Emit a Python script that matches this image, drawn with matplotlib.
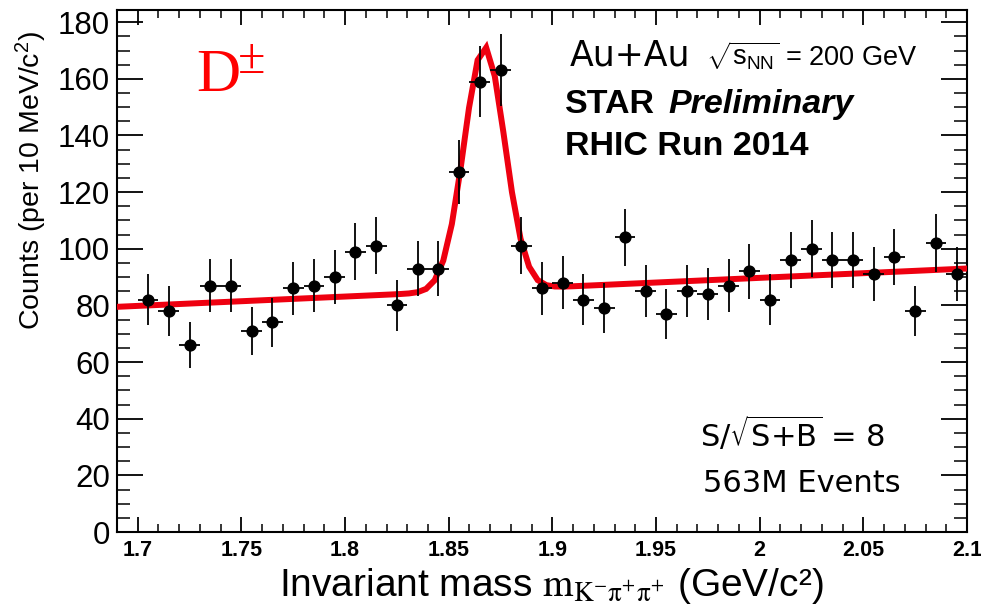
import numpy as np
import matplotlib
matplotlib.use("Agg")
import matplotlib.pyplot as plt
from matplotlib.ticker import MultipleLocator

# D+- -> K- pi+ pi+ invariant-mass histogram, 10 MeV/c^2 bins
bin_centers = [1.705, 1.715, 1.725, 1.735, 1.745, 1.755, 1.765, 1.775, 1.785, 1.795,
               1.805, 1.815, 1.825, 1.835, 1.845, 1.855, 1.865, 1.875, 1.885, 1.895,
               1.905, 1.915, 1.925, 1.935, 1.945, 1.955, 1.965, 1.975, 1.985, 1.995,
               2.005, 2.015, 2.025, 2.035, 2.045, 2.055, 2.065, 2.075, 2.085, 2.095]
counts = [82, 78, 66, 87, 87, 71, 74, 86, 87, 90,
          99, 101, 80, 93, 93, 127, 159, 163, 101, 86,
          88, 82, 79, 104, 85, 77, 85, 84, 87, 92,
          82, 96, 100, 96, 96, 91, 97, 78, 102, 91]
bin_half_width = 0.005

# Gaussian signal + linear background fit parameters
fit_amp = 86.0
fit_mean = 1.8672
fit_sigma = 0.0098
bg_at_low = 79.5
bg_slope = 33.0
fit_range = (1.69, 2.10)

x_ticks = [1.7, 1.75, 1.8, 1.85, 1.9, 1.95, 2.0, 2.05, 2.1]
x_tick_labels = ["1.7", "1.75", "1.8", "1.85", "1.9", "1.95", "2", "2.05", "2.1"]
y_ticks = [0, 20, 40, 60, 80, 100, 120, 140, 160, 180]

plt.rcParams["mathtext.fontset"] = "custom"
plt.rcParams["mathtext.rm"] = "Liberation Sans"
plt.rcParams["mathtext.it"] = "Liberation Sans:italic"
plt.rcParams["mathtext.bf"] = "Liberation Sans:bold"

fig = plt.figure(figsize=(9.81, 6.09), dpi=100)
W, H = 981, 609
ax = fig.add_axes([117 / W, (H - 532) / H, (967 - 117) / W, (532 - 10) / H])

x = np.array(bin_centers)
y = np.array(counts, dtype=float)
ax.errorbar(x, y, yerr=np.sqrt(y), xerr=bin_half_width, fmt="o", color="black",
            ms=7.8, elinewidth=1.3, capsize=0, zorder=4)

xf = np.linspace(fit_range[0], fit_range[1], 100)
yf = (bg_at_low + bg_slope * (xf - fit_range[0])
      + fit_amp * np.exp(-0.5 * ((xf - fit_mean) / fit_sigma) ** 2))
ax.plot(xf, yf, color="#ee0010", lw=4.3, solid_joinstyle="miter", zorder=3)

ax.set_xlim(1.69, 2.1)
ax.set_ylim(0, 184.3)
ax.set_xticks(x_ticks)
ax.set_xticklabels(x_tick_labels, fontfamily="Liberation Sans", fontweight="bold",
                   fontsize=15.5)
ax.set_yticks(y_ticks)
ax.set_yticklabels([str(v) for v in y_ticks], fontfamily="Liberation Sans", fontsize=22.5)
ax.xaxis.set_minor_locator(MultipleLocator(0.01))
ax.yaxis.set_minor_locator(MultipleLocator(5))
ax.tick_params(axis="x", which="major", direction="in", length=11, width=1.3,
               top=True, pad=6)
ax.tick_params(axis="x", which="minor", direction="in", length=5.5, width=1.1, top=True)
ax.tick_params(axis="y", which="major", direction="in", length=19, width=1.3,
               right=True, pad=5)
ax.tick_params(axis="y", which="minor", direction="in", length=9.5, width=1.1, right=True)
for sp in ax.spines.values():
    sp.set_linewidth(1.5)

# Axis titles
fig.text(551 / W, 1 - 596 / H,
         r"Invariant mass $\mathrm{m}_{\mathrm{K^{-}π^{+}π^{+}}}$ (GeV/c²)",
         fontfamily="Liberation Sans", fontsize=28, math_fontfamily="stix",
         ha="center", va="baseline")
fig.text(31 / W, 1 - 180 / H, r"Counts (per 10 MeV/c$^{2}$)",
         fontfamily="Liberation Sans", fontsize=20.5, rotation=90,
         ha="center", va="center")

# Particle label
fig.text(196 / W, 1 - 91 / H, "D", color="red", fontfamily="Liberation Serif",
         fontsize=44, va="baseline", ha="left")
fig.text(238 / W, 1 - 73 / H, "±", color="red", fontfamily="Liberation Serif",
         fontsize=36, va="baseline", ha="left")

# Collision system and experiment labels
fig.text(570 / W, 1 - 66 / H, "Au+Au", fontfamily="DejaVu Sans", fontsize=25,
         va="baseline", ha="left")
fig.text(706 / W, 1 - 66 / H, r"$\sqrt{\mathrm{s}_{\mathrm{NN}}}$ = 200 GeV",
         fontfamily="Liberation Sans", fontsize=19.5, va="baseline", ha="left")
fig.text(565 / W, 1 - 113 / H, "STAR", fontfamily="Liberation Sans",
         fontweight="bold", fontsize=24.5, va="baseline", ha="left")
fig.text(668 / W, 1 - 113 / H, "Preliminary", fontfamily="Liberation Sans",
         fontweight="bold", fontstyle="italic", fontsize=24.5,
         va="baseline", ha="left")
fig.text(565 / W, 1 - 155 / H, "RHIC Run 2014", fontfamily="Liberation Sans",
         fontweight="bold", fontsize=24.5, va="baseline", ha="left")

fig.text(700 / W, 1 - 447 / H, r"S/$\sqrt{\mathrm{S{+}B}}$ = 8", fontfamily="DejaVu Sans",
         fontsize=22, math_fontfamily="dejavusans", va="baseline", ha="left")
fig.text(703 / W, 1 - 492 / H, "563M Events", fontfamily="DejaVu Sans", fontsize=22,
         va="baseline", ha="left")

fig.savefig("out.png", dpi=100, facecolor="white")
